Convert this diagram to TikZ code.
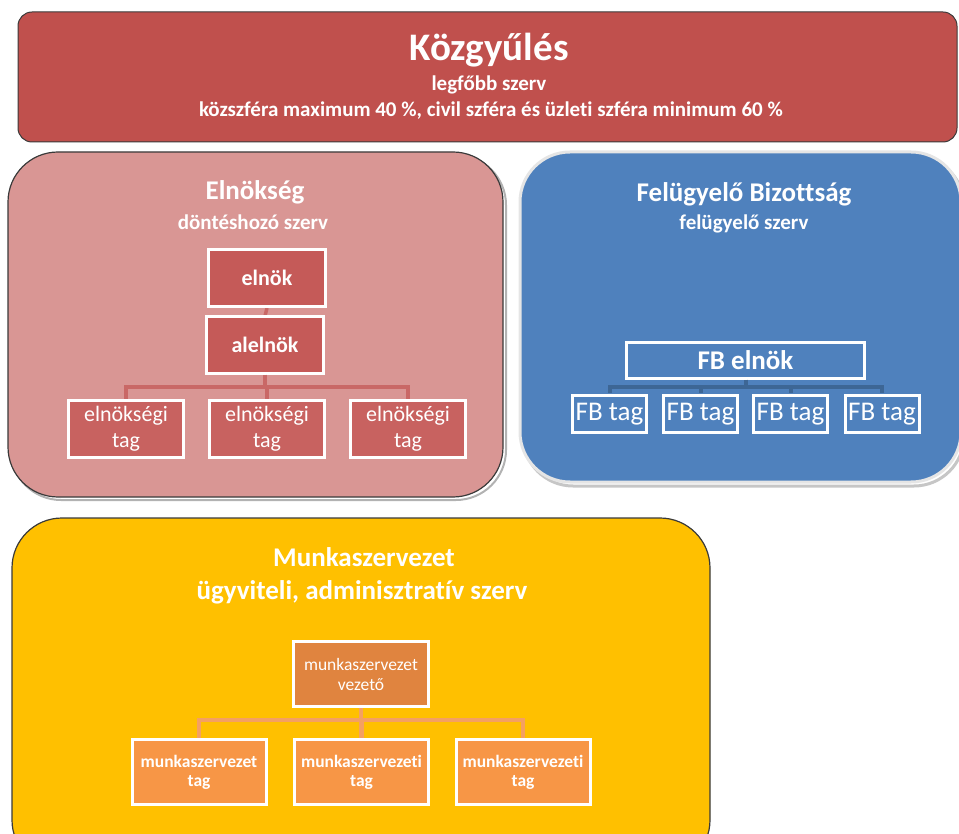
\documentclass[tikz,border=0pt]{standalone}
\usepackage{fontspec}
\setmainfont{Carlito}[Ligatures={NoCommon}]
\usetikzlibrary{positioning}

\definecolor{kgyred}{HTML}{C0504D}
\definecolor{elnbg}{HTML}{D99694}
\definecolor{elnbox}{HTML}{C55A58}
\definecolor{elnline}{HTML}{C96866}
\definecolor{fbblue}{HTML}{4F81BD}
\definecolor{fbline}{HTML}{3D6695}
\definecolor{mszbg}{HTML}{FFC000}
\definecolor{mszhead}{HTML}{E0843F}
\definecolor{mszbox}{HTML}{F79646}
\definecolor{mszline}{HTML}{F4A062}
\definecolor{framegray}{HTML}{3A3A3A}

\tikzset{
	orgbox/.style={draw=white,line width=3pt,inner sep=1pt,align=center,text=white},
	elnconn/.style={elnline,line width=3.5pt},
	fbconn/.style={fbline,line width=4pt},
	mszconn/.style={mszline,line width=4.5pt},
	title/.style={text=white,font=\bfseries\fontsize{27}{30}\selectfont},
	subtitle/.style={text=white,font=\bfseries\fontsize{21}{24}\selectfont}
}

\begin{document}
\begin{tikzpicture}[x=1pt,y=-1pt]
	\useasboundingbox (0,0) rectangle (959,834);

	\begin{scope}
		\clip (0,0) rectangle (959,834);

		% Kozgyules
		\draw[framegray,fill=kgyred,line width=1pt,rounded corners=14pt] (18,12) rectangle (957,142);
		\node[text=white,font=\bfseries\fontsize{39}{42}\selectfont] (kgy) at (489,50) {Közgyűlés};
		\node[subtitle] (kgysub) at (489,85) {legfőbb szerv};
		\node[subtitle] (kgyinfo) at (491,111) {közszféra maximum 40 \%, civil szféra és üzleti szféra minimum 60 \%};

		% Elnokseg
		\draw[gray!60,line width=2pt,rounded corners=50pt] (11,155) rectangle (506,500);
		\draw[framegray,fill=elnbg,line width=1.2pt,rounded corners=50pt] (8,152) rectangle (503,497);
		\node[title] (eln) at (255,192) {Elnökség};
		\node[subtitle] (elnsub) at (253,222) {döntéshozó szerv};

		% Felugyelo Bizottsag
		\draw[gray!45,line width=3pt,rounded corners=50pt] (523,156) rectangle (964,486);
		\draw[gray!20,fill=fbblue,line width=3pt,rounded corners=50pt] (520,152) rectangle (961,482);
		\node[title] (fb) at (744,194) {Felügyelő Bizottság};
		\node[subtitle] (fbsub) at (744,224) {felügyelő szerv};

		% Munkaszervezet
		\draw[framegray,fill=mszbg,line width=1.2pt,rounded corners=50pt] (12,518) rectangle (710,870);
		\node[title] (msz) at (364,557) {Munkaszervezet};
		\node[title] (mszsub) at (362,592) {ügyviteli, adminisztratív szerv};
	\end{scope}

	%---------------------
	% Elnokseg nodes
	%---------------------
	\coordinate (elnbus) at (266,387);
	\draw[elnconn] (267,308) -- (265,316);
	\node[orgbox,fill=elnbox,minimum width=117pt,minimum height=57pt,font=\bfseries\fontsize{22}{26}\selectfont] (elnok) at (267,278) {elnök};
	\node[orgbox,fill=elnbox,minimum width=117pt,minimum height=57pt,font=\bfseries\fontsize{22}{26}\selectfont] (alelnok) at (265,345) {alelnök};
	\foreach \x/\n in {126/et1,267/et2,408/et3}{
		\node[orgbox,fill=elnbox!95!white,minimum width=115pt,minimum height=57pt,font=\fontsize{22}{26}\selectfont] (\n) at (\x,429) {elnökségi\\tag};
		\draw[elnconn] (alelnok.south) |- (elnbus) -| (\n.north);
	}

	%---------------------
	% FB nodes
	%---------------------
	\coordinate (fbbus) at (745,387);
	\node[orgbox,fill=fbblue,minimum width=238pt,minimum height=36pt,font=\bfseries\fontsize{27}{30}\selectfont] (fbelnok) at (745.5,360.5) {FB elnök};
	\foreach \x/\n in {609.5/ft1,700.5/ft2,790.5/ft3,882/ft4}{
		\draw[fbconn] (fbelnok.south) |- (fbbus) -| (\x,393);
		\node[orgbox,fill=fbblue,minimum width=74pt,minimum height=37pt,inner sep=0pt,font=\fontsize{27}{30}\selectfont] (\n) at (\x,414) {FB tag};
	}

	%---------------------
	% Munkaszervezet nodes
	%---------------------
	\coordinate (mszbus) at (361,720);
	\node[orgbox,fill=mszhead,minimum width=135pt,minimum height=65pt,font=\fontsize{17.5}{20}\selectfont] (vezeto) at (361,674) {munkaszervezet\\vezető};
	\node[orgbox,fill=mszbox,minimum width=134pt,minimum height=65pt,font=\bfseries\fontsize{17.5}{19}\selectfont] (mt1) at (199,772) {munkaszervezet\\tag};
	\node[orgbox,fill=mszbox,minimum width=134pt,minimum height=65pt,font=\bfseries\fontsize{17.5}{19}\selectfont] (mt2) at (361.5,772) {munkaszervezeti\\tag};
	\node[orgbox,fill=mszbox,minimum width=134pt,minimum height=65pt,font=\bfseries\fontsize{17.5}{19}\selectfont] (mt3) at (523,772) {munkaszervezeti\\tag};
	\foreach \n in {mt1,mt2,mt3}
		\draw[mszconn] (vezeto.south) |- (mszbus) -| (\n.north);

\end{tikzpicture}
\end{document}
